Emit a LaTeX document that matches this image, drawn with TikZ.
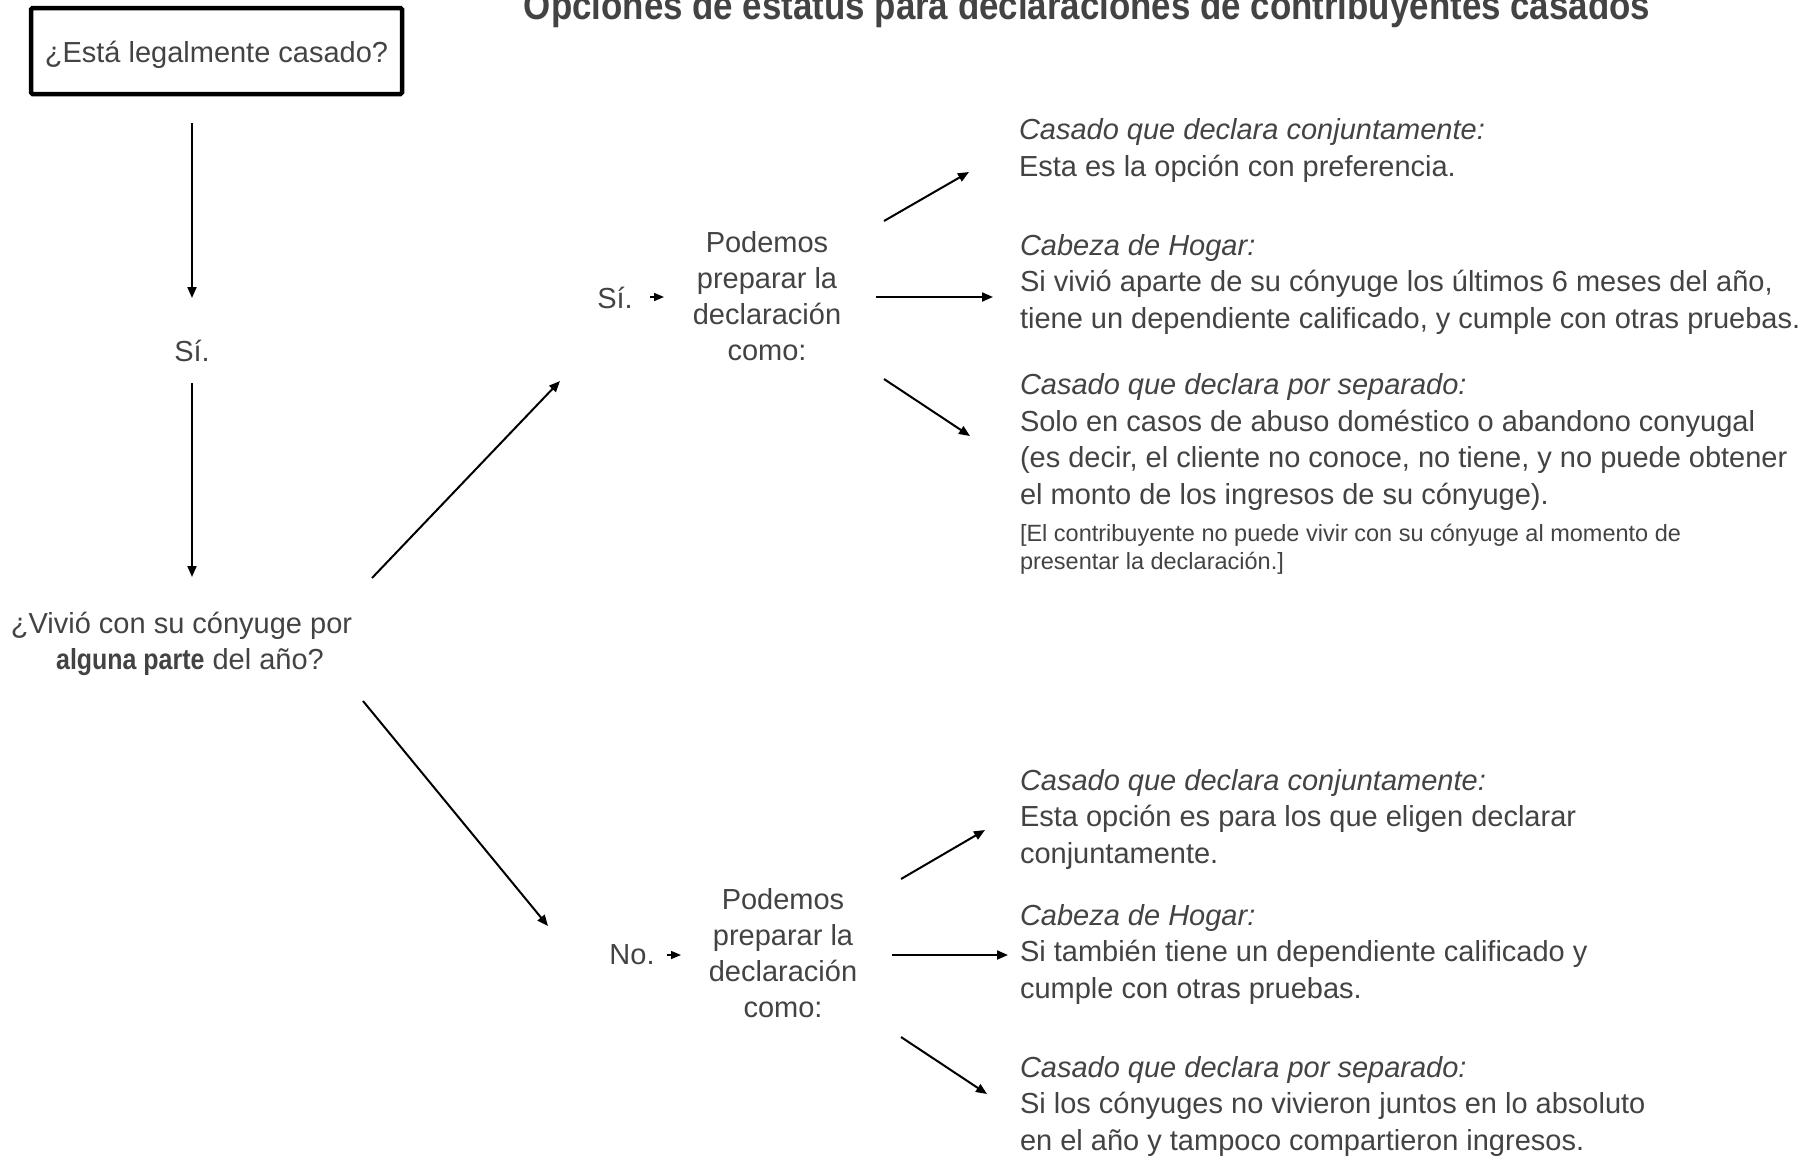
\documentclass[tikz,border=0pt]{standalone}
\usepackage{fontspec}
\setmainfont{Liberation Sans}
\usetikzlibrary{arrows.meta}
\definecolor{txt}{HTML}{434343}
\begin{document}
\begin{tikzpicture}[x=1pt,y=-1pt,
  every node/.style={inner sep=0pt, outer sep=0pt, text=txt},
  body/.style={font=\fontsize{29}{36.5}\selectfont, align=left, anchor=base west},
  small/.style={font=\fontsize{23.5}{28}\selectfont, align=left, anchor=base west},
  ctr/.style={font=\fontsize{29}{36}\selectfont, align=center},
  arr/.style={draw=black, line width=2pt, -{Triangle[length=11pt,width=9pt]}},
  tiny/.style={draw=black, line width=1.5pt, -{Triangle[length=10pt,width=8pt]}},
]
\useasboundingbox (0,0) rectangle (1818,1160);
\fill[white] (0,0) rectangle (1818,1160);

% title
\node[anchor=base, font=\fontsize{40}{44}\selectfont\bfseries] (title) at (1087,19)
  {\scalebox{0.872}[1]{Opciones de estatus para declaraciones de contribuyentes casados}};

% left column
\node[ctr, draw=black, line width=4.5pt, rounded corners=1.5pt, minimum width=371pt, minimum height=86pt] (q1) at (216.5,51) {\raisebox{0pt}[\dimexpr\height+7pt\relax][\depth]{¿Está legalmente casado?}};
\node[ctr] (si1) at (192,351) {Sí.};
\node[ctr] (q2) at (190,644) {¿Vivió con su cónyuge por\hspace*{17pt}\\\scalebox{0.86}[1]{\textbf{alguna parte}} del año?};

\coordinate (a1s) at (192,123); \coordinate (a1e) at (192,298);
\coordinate (a2s) at (192,383); \coordinate (a2e) at (192,577);
\draw[arr] (a1s) -- (a1e);
\draw[arr] (a2s) -- (a2e);

\coordinate (d1s) at (372,578); \coordinate (d1e) at (560,381);
\coordinate (d2s) at (363,701); \coordinate (d2e) at (548,926);
\draw[arr] (d1s) -- (d1e);
\draw[arr] (d2s) -- (d2e);

% upper branch
\node[ctr] (si2) at (615,298) {Sí.};
\node[ctr] (pod1) at (767,296.5) {Podemos\\preparar la\\declaración\\como:};
\coordinate (s2s) at (650,297); \coordinate (s2e) at (664,297);
\draw[tiny] (s2s) -- (s2e);

\coordinate (u1s) at (884,221); \coordinate (u1e) at (969,172);
\coordinate (u2s) at (876,297); \coordinate (u2e) at (993,297);
\coordinate (u3s) at (884,379); \coordinate (u3e) at (970,436);
\draw[arr] (u1s) -- (u1e);
\draw[arr] (u2s) -- (u2e);
\draw[arr] (u3s) -- (u3e);

\node[body] (ut1) at (1019,176) {\textit{Casado que declara conjuntamente:}\\Esta es la opción con preferencia.};
\node[body] (ut2) at (1020,328) {\textit{Cabeza de Hogar:}\\Si vivió aparte de su cónyuge los últimos 6 meses del año,\\tiene un dependiente calificado, y cumple con otras pruebas.};
\node[body] (ut3) at (1020,504) {\textit{Casado que declara por separado:}\\Solo en casos de abuso doméstico o abandono conyugal\\(es decir, el cliente no conoce, no tiene, y no puede obtener\\el monto de los ingresos de su cónyuge).};
\node[small] (ut4) at (1020,569) {[El contribuyente no puede vivir con su cónyuge al momento de\\presentar la declaración.]};

% lower branch
\node[ctr] (no) at (632,955) {No.};
\node[ctr] (pod2) at (783,953.5) {Podemos\\preparar la\\declaración\\como:};
\coordinate (n2s) at (667,955); \coordinate (n2e) at (681,955);
\draw[tiny] (n2s) -- (n2e);

\coordinate (l1s) at (901,879); \coordinate (l1e) at (985,830);
\coordinate (l2s) at (892,955); \coordinate (l2e) at (1008,955);
\coordinate (l3s) at (901,1037); \coordinate (l3e) at (987,1094);
\draw[arr] (l1s) -- (l1e);
\draw[arr] (l2s) -- (l2e);
\draw[arr] (l3s) -- (l3e);

\node[body] (lt1) at (1020,863) {\textit{Casado que declara conjuntamente:}\\Esta opción es para los que eligen declarar\\conjuntamente.};
\node[body] (lt2) at (1020,998) {\textit{Cabeza de Hogar:}\\Si también tiene un dependiente calificado y\\cumple con otras pruebas.};
\node[body] (lt3) at (1020,1150) {\textit{Casado que declara por separado:}\\Si los cónyuges no vivieron juntos en lo absoluto\\en el año y tampoco compartieron ingresos.};
\end{tikzpicture}
\end{document}
